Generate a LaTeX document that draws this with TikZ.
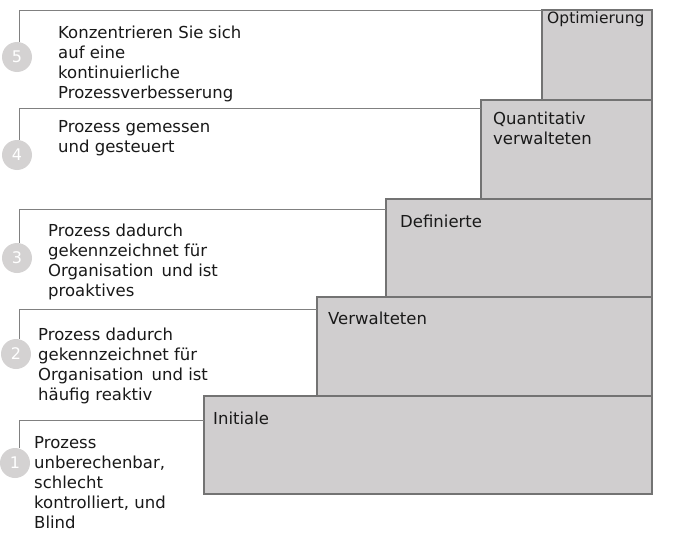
\documentclass[tikz,border=0pt]{standalone}
\usepackage{fontspec}
\setmainfont{DejaVu Sans}
\begin{document}
\begin{tikzpicture}[x=1pt,y=-1pt,
  stair/.style={draw=gray!90!black,line width=1.2pt,fill={rgb,255:red,208;green,206;blue,207}},
  lbl/.style={anchor=north west,inner sep=0pt,font=\fontsize{16.5}{20}\selectfont,align=left,text=black!90},
  num/.style={circle,fill={rgb,255:red,212;green,210;blue,210},minimum size=30pt,inner sep=0pt,text=white,font=\fontsize{16}{18}\selectfont},
  ln/.style={draw=gray,line width=0.7pt}]
\useasboundingbox (0,0) rectangle (682,543);
\fill[white] (0,0) rectangle (682,543);
% boxes
\draw[stair] (542,10) rectangle (652,100); \node[lbl,font=\fontsize{15.5}{20}\selectfont] (t5) at (547,12) {Optimierung};
\draw[stair] (481,100) rectangle (652,199); \node[lbl] (t4) at (493,112) {Quantitativ\\verwalteten};
\draw[stair] (386,199) rectangle (652,297); \node[lbl] (t3) at (400,215) {Definierte};
\draw[stair] (317,297) rectangle (652,396); \node[lbl] (t2) at (328,312) {Verwalteten};
\draw[stair] (204,396) rectangle (652,494); \node[lbl] (t1) at (213,412) {Initiale};
% circles
\node[num] (c5) at (17,57) {5};
\node[num] (c4) at (17,155) {4};
\node[num] (c3) at (17,258) {3};
\node[num] (c2) at (16,354) {2};
\node[num] (c1) at (15,463) {1};
% lines
\coordinate (k5) at (19,10); \coordinate (e5) at (542,10);
\coordinate (k4) at (19,108); \coordinate (e4) at (481,108);
\coordinate (k3) at (19,209); \coordinate (e3) at (386,209);
\coordinate (k2) at (19,309); \coordinate (e2) at (317,309);
\coordinate (k1) at (19,420); \coordinate (e1) at (204,420);
\draw[ln] (e5) -- (k5) -- (k5 |- c5.north);
\draw[ln] (e4) -- (k4) -- (k4 |- c4.north);
\draw[ln] (e3) -- (k3) -- (k3 |- c3.north);
\draw[ln] (e2) -- (k2) -- (k2 |- c2.north);
\draw[ln] (e1) -- (k1) -- (k1 |- c1.north);
% texts
\node[lbl] (d5) at (58,26) {Konzentrieren Sie sich\\auf eine\\kontinuierliche\\Prozessverbesserung};
\node[lbl] (d4) at (58,120) {Prozess gemessen\\und gesteuert};
\node[lbl] (d3) at (48,224) {Prozess dadurch\\gekennzeichnet für\\Organisation\, und ist\\proaktives};
\node[lbl] (d2) at (38,328) {Prozess dadurch\\gekennzeichnet für\\Organisation\, und ist\\häufig reaktiv};
\node[lbl] (d1) at (34,436) {Prozess\\unberechenbar,\\schlecht\\kontrolliert, und\\Blind};
\end{tikzpicture}
\end{document}
